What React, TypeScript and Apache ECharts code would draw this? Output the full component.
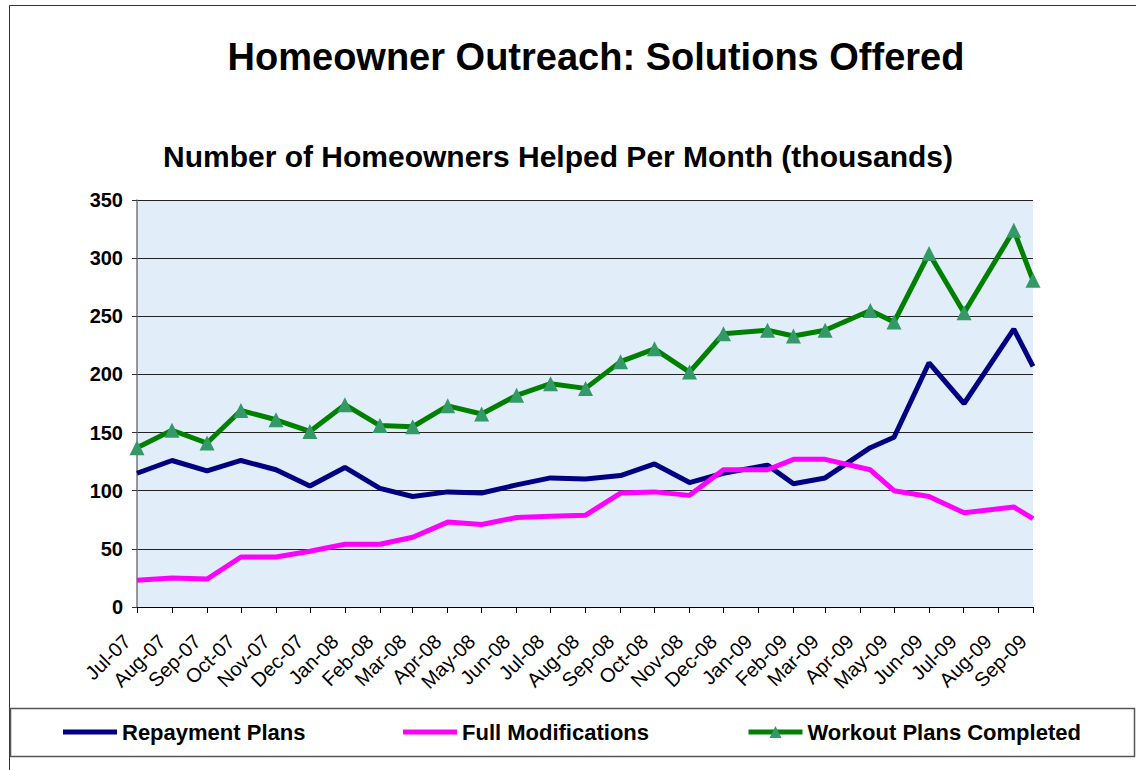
import React, { useEffect, useRef } from "react";
import * as echarts from "echarts";

// ---- data ----
const monthLabels = [
  "Jul-07", "Aug-07", "Sep-07", "Oct-07", "Nov-07", "Dec-07",
  "Jan-08", "Feb-08", "Mar-08", "Apr-08", "May-08", "Jun-08",
  "Jul-08", "Aug-08", "Sep-08", "Oct-08", "Nov-08", "Dec-08",
  "Jan-09", "Feb-09", "Mar-09", "Apr-09", "May-09", "Jun-09",
  "Jul-09", "Aug-09", "Sep-09",
];

// reporting dates of each monthly point (date axis)
const pointDates = [
  "2007-07-01", "2007-08-01", "2007-09-01", "2007-10-01", "2007-11-01", "2007-12-01",
  "2008-01-01", "2008-02-01", "2008-03-01", "2008-04-01", "2008-05-01", "2008-06-01",
  "2008-07-01", "2008-08-01", "2008-09-01", "2008-10-01", "2008-11-01", "2008-12-01",
  "2009-01-09", "2009-02-01", "2009-03-01", "2009-04-10", "2009-05-01", "2009-06-01",
  "2009-07-02", "2009-08-15", "2009-09-01",
];

const repaymentPlans = [
  115, 126, 117, 126, 118, 104, 120, 102, 95, 99, 98, 105, 111, 110, 113, 123, 107, 115,
  122, 106, 111, 137, 146, 210, 175, 239, 207,
];
const fullModifications = [
  23, 25, 24, 43, 43, 48, 54, 54, 60, 73, 71, 77, 78, 79, 98, 99, 96, 118,
  118, 127, 127, 118, 100, 95, 81, 86, 76,
];
const workoutPlansCompleted = [
  137, 152, 141, 169, 161, 151, 174, 156, 155, 173, 166, 182, 192, 188, 211, 222, 202, 235,
  238, 233, 238, 255, 245, 304, 253, 324, 281,
];

const seriesNames = ["Repayment Plans", "Full Modifications", "Workout Plans Completed"];
const yTicks = [0, 50, 100, 150, 200, 250, 300, 350];

const FONT = '"Liberation Sans", Arial, Helvetica, sans-serif';

function toTime(s: string): number {
  const [y, m, d] = s.split("-").map(Number);
  return new Date(y, m - 1, d).getTime();
}

function pairs(values: number[]) {
  return values.map((v, i) => [toTime(pointDates[i]), v]);
}

export default function App() {
  const ref = useRef<HTMLDivElement>(null);

  useEffect(() => {
    if (!ref.current) return;
    const chart = echarts.init(ref.current, undefined, { renderer: "svg" });
    const minTime = toTime("2007-07-01");
    const maxTime = toTime("2009-09-01");
    const DAY = 24 * 3600 * 1000;

    const legendText = { fontSize: 22, fontWeight: "bold", fontFamily: FONT, color: "#000" };

    const option: any = {
      animation: false,
      backgroundColor: "#ffffff",
      title: [
        {
          text: "Homeowner Outreach: Solutions Offered",
          left: 591,
          top: 33,
          textAlign: "center",
          textStyle: { fontSize: 38, fontWeight: "bold", fontFamily: FONT, color: "#000" },
        },
        {
          text: "Number of Homeowners Helped Per Month (thousands)",
          left: 553,
          top: 136,
          textAlign: "center",
          textStyle: { fontSize: 30, fontWeight: "bold", fontFamily: FONT, color: "#000" },
        },
      ],
      legend: [
        {
          left: 58,
          top: 716,
          itemWidth: 54,
          itemHeight: 5,
          icon: "rect",
          textStyle: legendText,
          selectedMode: false,
          data: [seriesNames[0]],
        },
        {
          left: 398,
          top: 716,
          itemWidth: 54,
          itemHeight: 5,
          icon: "rect",
          textStyle: legendText,
          selectedMode: false,
          data: [seriesNames[1]],
        },
        {
          left: 741,
          top: 716,
          itemWidth: 54,
          itemHeight: 15,
          textStyle: legendText,
          lineStyle: { width: 5 },
          selectedMode: false,
          data: [seriesNames[2]],
        },
      ],
      graphic: [
        {
          type: "rect",
          shape: { x: 9.5, y: 5.5, width: 1300, height: 900 },
          style: { fill: "none", stroke: "#333", lineWidth: 1 },
          silent: true,
          z: -10,
        },
        {
          type: "rect",
          shape: { x: 10.5, y: 708.5, width: 1124, height: 48 },
          style: { fill: "none", stroke: "#555", lineWidth: 1.5 },
          silent: true,
          z: -10,
        },
      ],
      grid: {
        left: 137,
        right: 103,
        top: 200,
        bottom: 163,
        show: true,
        backgroundColor: "#e1edf9",
        borderWidth: 0,
      },
      xAxis: {
        type: "time",
        min: minTime,
        max: maxTime,
        splitNumber: 26,
        minInterval: 28 * DAY,
        maxInterval: 31 * DAY,
        axisLine: { show: true, lineStyle: { color: "#000", width: 1 } },
        axisTick: { show: true, length: 6, lineStyle: { color: "#000" } },
        splitLine: { show: false },
        axisLabel: {
          rotate: 45,
          interval: 0,
          hideOverlap: false,
          margin: 21,
          padding: [0, 14, 0, 0],
          fontSize: 20,
          fontFamily: FONT,
          color: "#000",
          showMinLabel: true,
          showMaxLabel: true,
          formatter: (value: number) => {
            const d = new Date(value);
            const idx = (d.getFullYear() - 2007) * 12 + d.getMonth() - 6;
            return monthLabels[idx] ?? "";
          },
        },
      },
      yAxis: {
        type: "value",
        min: yTicks[0],
        max: yTicks[yTicks.length - 1],
        interval: 50,
        axisLine: { show: true, lineStyle: { color: "#777", width: 1.5 } },
        axisTick: { show: true, length: 5, lineStyle: { color: "#333" } },
        splitLine: { show: true, lineStyle: { color: "#222", width: 1 } },
        axisLabel: {
          margin: 14,
          fontSize: 20,
          fontWeight: "bold",
          fontFamily: FONT,
          color: "#000",
        },
      },
      series: [
        {
          name: seriesNames[0],
          type: "line",
          data: pairs(repaymentPlans),
          symbol: "none",
          lineStyle: { color: "#000080", width: 5 },
          itemStyle: { color: "#000080" },
        },
        {
          name: seriesNames[1],
          type: "line",
          data: pairs(fullModifications),
          symbol: "none",
          lineStyle: { color: "#ff00ff", width: 5 },
          itemStyle: { color: "#ff00ff" },
        },
        {
          name: seriesNames[2],
          type: "line",
          data: pairs(workoutPlansCompleted),
          symbol: "triangle",
          symbolSize: 15,
          showSymbol: true,
          lineStyle: { color: "#008000", width: 5 },
          itemStyle: { color: "#339966", borderWidth: 0 },
        },
      ],
    };

    chart.setOption(option);
    return () => chart.dispose();
  }, []);

  return (
    <div style={{ position: "fixed", left: 0, top: 0, width: 1136, height: 770, background: "#fff" }}>
      <div ref={ref} style={{ width: 1136, height: 770 }} />
    </div>
  );
}
